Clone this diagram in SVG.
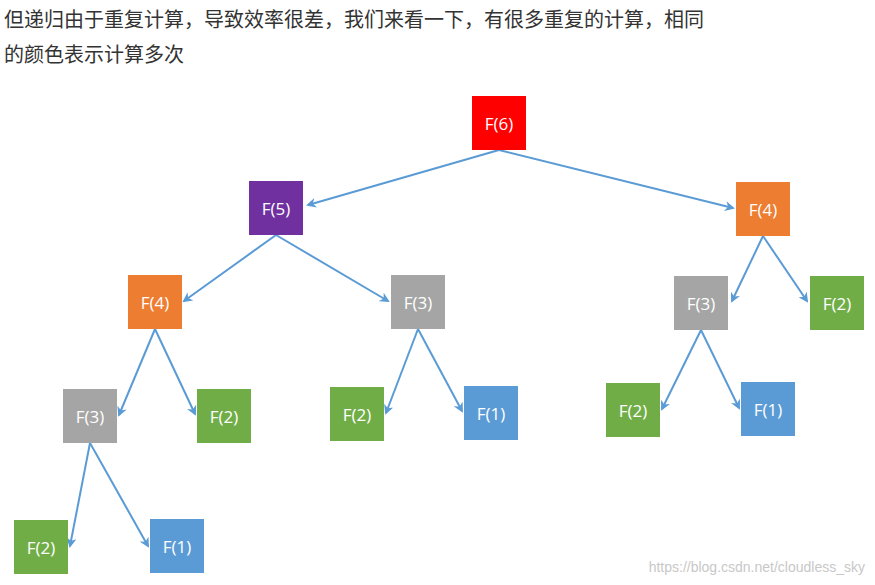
<svg xmlns="http://www.w3.org/2000/svg" width="875" height="585" viewBox="0 0 875 585">
<style>
.t{font-family:"Noto Sans CJK SC","Noto Sans",sans-serif;font-size:20px;fill:#333}
.n text{font-family:"Open Sans","Liberation Sans",sans-serif;font-size:17px;fill:#fff;text-anchor:middle;dominant-baseline:central}
.e line{stroke:#5B9BD5;stroke-width:2;marker-end:url(#a)}
.r{fill:#FF0000}.p{fill:#7030A0}.o{fill:#ED7D31}.g{fill:#A5A5A5}.gr{fill:#70AD47}.b{fill:#5B9BD5}
</style>
<defs><marker id="a" markerWidth="10" markerHeight="10" refX="8" refY="5" orient="auto" markerUnits="userSpaceOnUse"><path d="M0,0 L10,5 L0,10 L3,5 Z" fill="#5B9BD5"/></marker></defs>
<rect width="875" height="585" fill="#fff"/>
<text class="t" x="4" y="27">但递归由于重复计算，导致效率很差，我们来看一下，有很多重复的计算，相同</text>
<text class="t" x="4" y="62">的颜色表示计算多次</text>
<g class="e">
<line x1="499" y1="150" x2="308" y2="205"/>
<line x1="499" y1="150" x2="733" y2="208"/>
<line x1="276" y1="235" x2="184" y2="301"/>
<line x1="276" y1="235" x2="388" y2="301"/>
<line x1="763" y1="236" x2="732" y2="301"/>
<line x1="763" y1="236" x2="807" y2="301"/>
<line x1="155" y1="329" x2="119" y2="415"/>
<line x1="155" y1="329" x2="195" y2="414"/>
<line x1="418" y1="329" x2="386" y2="413"/>
<line x1="418" y1="329" x2="462" y2="411"/>
<line x1="701" y1="330" x2="662" y2="409"/>
<line x1="701" y1="330" x2="739" y2="408"/>
<line x1="90" y1="443" x2="70" y2="546"/>
<line x1="90" y1="443" x2="148" y2="546"/>
</g>
<g id="f6" class="n"><rect class="r" x="472" y="96" width="54" height="54"/><text x="499" y="123">F(6)</text></g>
<g id="f5" class="n"><rect class="p" x="249" y="181" width="54" height="54"/><text x="276" y="208">F(5)</text></g>
<g id="f4r" class="n"><rect class="o" x="736" y="182" width="54" height="54"/><text x="763" y="209">F(4)</text></g>
<g id="f4l" class="n"><rect class="o" x="128" y="275" width="54" height="54"/><text x="155" y="302">F(4)</text></g>
<g id="f3m" class="n"><rect class="g" x="391" y="275" width="54" height="54"/><text x="418" y="302">F(3)</text></g>
<g id="f3r" class="n"><rect class="g" x="674" y="276" width="54" height="54"/><text x="701" y="303">F(3)</text></g>
<g id="f2r" class="n"><rect class="gr" x="810" y="276" width="54" height="54"/><text x="837" y="303">F(2)</text></g>
<g id="f3l" class="n"><rect class="g" x="63" y="389" width="54" height="54"/><text x="90" y="416">F(3)</text></g>
<g id="f2a" class="n"><rect class="gr" x="197" y="389" width="54" height="54"/><text x="224" y="416">F(2)</text></g>
<g id="f2b" class="n"><rect class="gr" x="330" y="387" width="54" height="54"/><text x="357" y="414">F(2)</text></g>
<g id="f1a" class="n"><rect class="b" x="464" y="386" width="54" height="54"/><text x="491" y="413">F(1)</text></g>
<g id="f2c" class="n"><rect class="gr" x="606" y="383" width="54" height="54"/><text x="633" y="410">F(2)</text></g>
<g id="f1b" class="n"><rect class="b" x="741" y="382" width="54" height="54"/><text x="768" y="409">F(1)</text></g>
<g id="f2d" class="n"><rect class="gr" x="14" y="520" width="54" height="54"/><text x="41" y="547">F(2)</text></g>
<g id="f1c" class="n"><rect class="b" x="150" y="519" width="54" height="54"/><text x="177" y="546">F(1)</text></g>
<text x="865" y="572" text-anchor="end" font-family="Liberation Sans,sans-serif" font-size="14" fill="#c8c8c8">https://blog.csdn.net/cloudless_sky</text>
</svg>
